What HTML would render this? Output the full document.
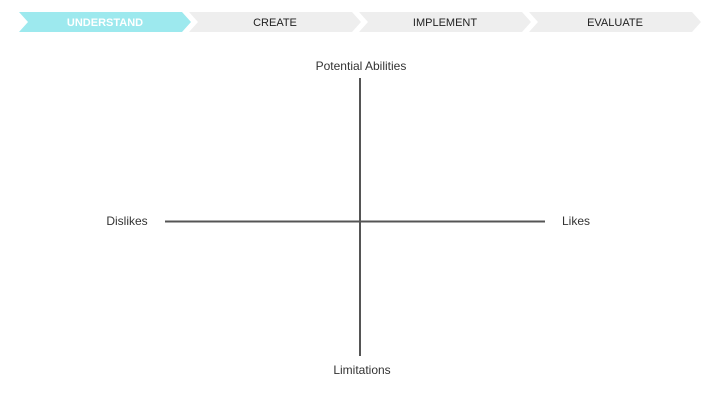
<!DOCTYPE html>
<html><head><style>
body{margin:0;width:720px;height:405px;background:#fff;overflow:hidden;font-family:"Liberation Sans",sans-serif}
</style></head><body>
<svg width="720" height="405" xmlns="http://www.w3.org/2000/svg" font-family="Liberation Sans, sans-serif">
<polygon points="19,12 182,12 191,22 182,32 19,32 28,22" fill="#9de9ee"/>
<polygon points="189,12 352,12 361,22 352,32 189,32 198,22" fill="#eeeeee"/>
<polygon points="359,12 522,12 531,22 522,32 359,32 368,22" fill="#eeeeee"/>
<polygon points="529,12 692,12 701,22 692,32 529,32 538,22" fill="#eeeeee"/>
<text x="105" y="26" font-size="11" fill="#fff" font-weight="bold" text-anchor="middle">UNDERSTAND</text>
<text x="275" y="26" font-size="11" fill="#222" text-anchor="middle">CREATE</text>
<text x="445" y="26" font-size="11" fill="#222" text-anchor="middle">IMPLEMENT</text>
<text x="615" y="26" font-size="11" fill="#222" text-anchor="middle">EVALUATE</text>
<line x1="360" y1="78" x2="360" y2="356" stroke="#555" stroke-width="2"/>
<line x1="165" y1="221.5" x2="545" y2="221.5" stroke="#555" stroke-width="2"/>
<text x="361" y="70" font-size="12" fill="#333" text-anchor="middle">Potential Abilities</text>
<text x="362" y="374" font-size="12" fill="#333" text-anchor="middle">Limitations</text>
<text x="127" y="225" font-size="12" fill="#333" text-anchor="middle">Dislikes</text>
<text x="576" y="225" font-size="12" fill="#333" text-anchor="middle">Likes</text>
</svg>
</body></html>
